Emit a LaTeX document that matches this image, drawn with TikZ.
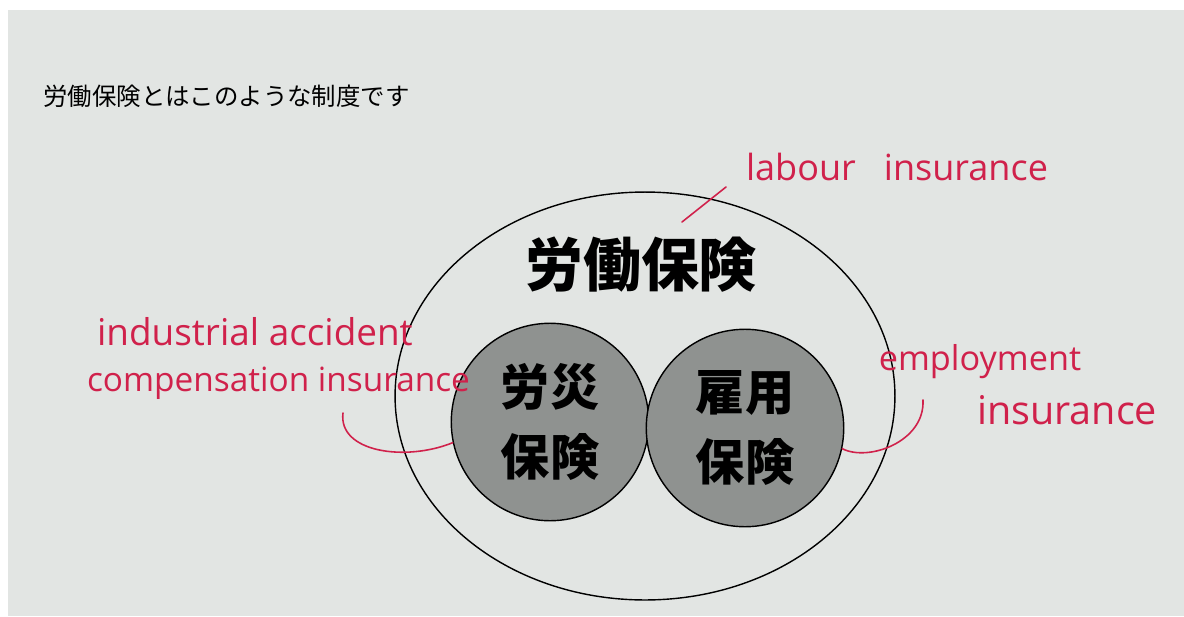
\documentclass[tikz,border=0pt]{standalone}
\usepackage{fontspec}
\usetikzlibrary{shapes.geometric}
\newfontfamily\jpfont{Noto Sans CJK JP}
\newfontfamily\handfont{Open Sans}
\definecolor{PaperGray}{HTML}{E2E5E3}
\definecolor{FigureRed}{HTML}{D0214B}
\definecolor{BallGray}{HTML}{8F9290}

\begin{document}
\begin{tikzpicture}[x=0.02cm,y=-0.02cm,line cap=round,
  ball/.style={circle,draw=black,line width=0.8pt,fill=BallGray,minimum size=3.95cm,inner sep=0pt},
  balltext/.style={font=\jpfont\bfseries\fontsize{28}{40}\selectfont,align=center},
  hand/.style={text=FigureRed,inner sep=1pt,font=\handfont\fontsize{#1}{29}\selectfont},hand/.default=19.5,
  leader/.style={FigureRed,line width=0.9pt}]
  \useasboundingbox (0,0) rectangle (1184,616);
  \fill[white] (0,0) rectangle (1184,616); \fill[PaperGray] (8,10) rectangle (1184,616);
  \node[anchor=west,inner sep=0pt,font=\jpfont\fontsize{13.9}{16}\selectfont] (title) at (43,96) {労働保険とはこのような制度です};
  \node[ellipse,draw=black,line width=0.8pt,minimum width=10cm,minimum height=8.16cm,inner sep=0pt] (roudou) at (645,396) {};
  \node[font=\jpfont\bfseries\fontsize{33}{40}\selectfont] (roudouText) at (641,265) {労働保険};
  \node[ball] (rousai) at (550,422) {}; \node[balltext] (rousaiText) at (rousai) {労災\\保険};
  \node[ball] (koyou) at (745,428) {}; \node[balltext] (koyouText) at (koyou) {雇用\\保険};
  \node[hand=20.5] (roudouLabel) at (897,167) {labour\ \ \ insurance};
  \node[hand=21,anchor=west] (rousaiLabelA) at (95,332) {industrial accident};
  \node[hand=19,anchor=west] (rousaiLabelB) at (85,383) {compensation insurance};
  \node[hand=19.5] (koyouLabelA) at (980,362) {employment};
  \node[hand=22.5] (koyouLabelB) at (1067,410) {insurance};
  \coordinate (roudouTick) at (682,222); \coordinate (roudouTip) at (726,187);
  \coordinate (rousaiTail) at (343,413); \coordinate (koyouTail) at (923,400);
  \draw[leader] (roudouTick) -- (roudouTip);
  \draw[leader] (rousaiTail) .. controls (338,452) and (405,462) .. (rousai.192);
  \draw[leader] (koyou.348) .. controls (868,462) and (925,442) .. (koyouTail);
\end{tikzpicture}
\end{document}
